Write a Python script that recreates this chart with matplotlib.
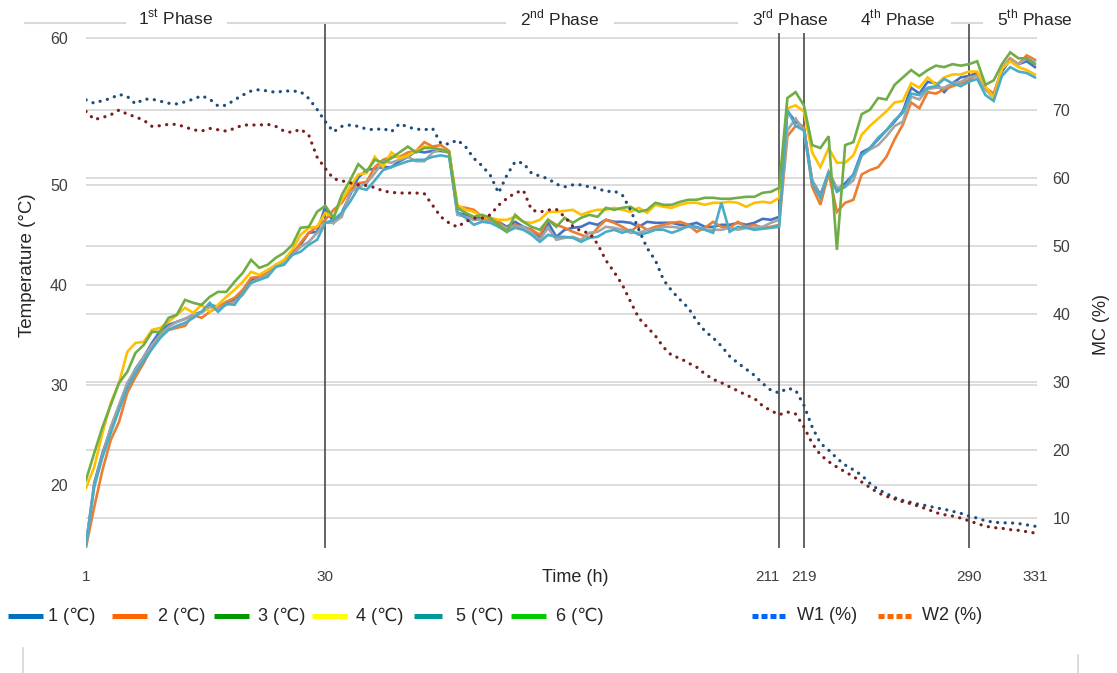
import numpy as np
import matplotlib
matplotlib.use('Agg')
import matplotlib.pyplot as plt
from matplotlib.lines import Line2D
from matplotlib.transforms import blended_transform_factory

plt.rcParams['font.family'] = ['Liberation Sans', 'DejaVu Sans']
plt.rcParams['mathtext.fontset'] = 'custom'
plt.rcParams['mathtext.rm'] = 'Liberation Sans'

# pile temperatures (deg C), one reading per sample
t1 = [14.0, 20.2, 23.2, 25.6, 27.8, 30.0, 31.6, 32.8, 34.2, 35.4, 36.0, 36.3, 36.6, 37.0, 37.3, 38.0, 37.8, 38.2, 38.5, 39.4, 40.5, 40.8, 41.0, 42.0, 42.3, 43.2,
      44.0, 45.2, 45.3, 47.8, 46.2, 47.2, 49.0, 50.5, 51.0, 51.1, 51.2, 51.2, 51.6, 51.9, 52.3, 52.2, 52.3, 52.3, 52.2, 47.2, 47.0, 46.5, 46.8, 46.3, 46.3, 45.8, 46.3, 45.8, 45.5,
      44.8, 46.2, 44.8, 45.5, 45.7, 45.8, 46.2, 46.0, 46.5, 46.3, 46.3, 46.2, 45.8, 46.3, 46.2, 46.2, 46.2, 46.0, 46.0, 46.2, 45.8, 45.8, 46.0, 46.0, 46.2, 46.0, 46.2, 46.6, 46.5, 46.8,
      55.0, 54.3, 53.9, 50.3, 49.0, 50.8, 49.5, 50.1, 50.7, 52.2, 52.5, 53.1, 53.7, 54.3, 55.0, 56.6, 56.2, 57.0, 56.9, 56.3, 56.9, 57.3, 57.4, 57.6, 56.5, 56.0, 57.7, 58.5, 58.2, 58.4, 58.0]
t2 = [13.8, 17.8, 21.5, 24.5, 26.3, 29.2, 30.8, 32.2, 33.8, 35.0, 35.5, 35.7, 35.9, 37.0, 36.7, 37.3, 37.8, 38.3, 38.7, 39.5, 40.7, 40.8, 41.2, 41.8, 42.2, 43.0,
      44.2, 45.2, 45.8, 46.5, 47.5, 48.2, 49.5, 50.1, 50.2, 51.2, 51.7, 51.9, 51.9, 52.2, 52.3, 52.9, 52.6, 52.7, 52.3, 47.8, 47.7, 47.5, 46.8, 46.5, 46.3, 45.5, 46.0, 45.7, 45.5,
      45.0, 46.5, 46.0, 45.7, 45.3, 45.0, 44.7, 45.7, 46.5, 46.2, 45.8, 45.3, 46.0, 45.5, 45.8, 46.0, 46.2, 46.3, 46.0, 45.3, 45.7, 46.3, 45.8, 45.7, 46.3, 45.8, 46.0, 45.7, 45.8, 46.0,
      53.3, 54.0, 53.9, 49.8, 48.0, 50.8, 47.3, 48.2, 48.5, 50.7, 51.0, 51.2, 51.9, 53.1, 54.1, 55.6, 55.2, 56.3, 56.2, 56.5, 56.7, 56.9, 57.1, 57.5, 56.6, 56.2, 57.9, 58.6, 58.2, 58.8, 58.5]
t3 = [14.0, 20.0, 23.0, 25.8, 28.0, 30.2, 31.5, 32.8, 34.0, 35.0, 35.8, 36.3, 36.6, 37.0, 37.2, 37.8, 37.6, 38.0, 38.3, 39.0, 40.2, 40.6, 41.0, 41.8, 42.2, 43.0,
      43.8, 44.3, 45.2, 46.2, 46.2, 46.8, 49.2, 49.8, 50.1, 50.8, 51.6, 51.5, 51.7, 51.9, 51.6, 51.6, 52.2, 52.4, 52.2, 47.0, 46.8, 46.5, 46.5, 46.3, 46.0, 45.7, 45.8, 45.8, 45.2,
      44.5, 45.7, 44.5, 44.7, 44.8, 44.5, 45.2, 45.3, 45.8, 45.7, 45.5, 45.2, 45.2, 45.5, 45.5, 45.8, 45.8, 45.7, 45.8, 45.7, 45.5, 45.5, 45.5, 45.7, 45.5, 45.7, 45.7, 45.8, 46.2, 46.5,
      53.7, 54.5, 53.7, 50.3, 48.8, 50.9, 49.7, 49.8, 50.3, 52.0, 52.4, 52.7, 53.3, 54.0, 54.3, 56.0, 55.8, 56.5, 56.6, 56.6, 56.9, 57.0, 57.3, 57.4, 56.5, 55.9, 57.9, 58.5, 58.2, 58.6, 58.4]
t4 = [19.7, 21.8, 25.2, 28.2, 30.2, 33.3, 34.2, 34.3, 35.5, 35.7, 36.3, 37.0, 37.7, 37.2, 38.0, 37.3, 38.0, 38.8, 39.5, 40.3, 41.3, 41.0, 41.5, 42.0, 42.5, 43.5,
      45.0, 45.7, 45.8, 47.2, 46.8, 48.5, 49.8, 50.7, 50.8, 51.9, 51.2, 52.2, 51.8, 52.0, 52.3, 52.6, 52.5, 52.4, 52.2, 48.0, 47.5, 47.3, 46.8, 46.7, 46.5, 46.5, 46.8, 46.3, 46.2,
      46.5, 47.3, 47.3, 47.4, 47.5, 47.0, 47.3, 47.5, 47.5, 47.7, 47.5, 47.3, 47.7, 47.2, 48.0, 47.8, 47.7, 48.0, 48.2, 48.2, 48.0, 48.2, 48.2, 48.3, 48.2, 47.8, 48.2, 48.3, 48.2, 48.7,
      55.2, 55.4, 55.0, 52.2, 51.2, 52.5, 51.5, 51.5, 52.0, 53.4, 54.0, 54.5, 55.0, 55.6, 55.7, 56.9, 56.6, 57.3, 56.8, 57.3, 57.5, 57.5, 57.7, 57.7, 56.7, 55.9, 57.9, 58.4, 58.0, 57.8, 57.5]
t5 = [14.0, 19.8, 22.8, 25.2, 27.5, 29.7, 31.2, 32.4, 33.6, 34.7, 35.5, 35.9, 36.2, 36.7, 37.3, 38.2, 37.3, 38.1, 38.0, 39.2, 40.2, 40.5, 40.8, 41.8, 42.0, 43.0,
      43.3, 44.0, 44.5, 46.2, 46.5, 47.2, 48.3, 49.7, 49.5, 50.3, 51.0, 51.2, 51.4, 51.6, 51.7, 51.7, 51.9, 52.0, 51.9, 47.3, 46.7, 46.0, 46.3, 46.2, 45.8, 45.3, 45.7, 45.5, 45.0,
      44.3, 45.0, 44.8, 44.8, 44.7, 44.3, 44.7, 44.8, 45.3, 45.5, 45.2, 45.5, 45.0, 45.2, 45.5, 45.5, 45.2, 45.5, 45.9, 45.8, 45.5, 45.2, 48.2, 45.3, 45.8, 45.7, 45.5, 45.6, 45.7, 45.8,
      55.1, 54.0, 53.7, 50.1, 48.7, 50.9, 49.3, 49.8, 50.7, 52.0, 52.5, 53.2, 53.7, 54.4, 54.9, 56.2, 56.1, 56.6, 56.7, 57.2, 56.9, 56.7, 57.0, 57.2, 56.1, 55.7, 57.4, 58.0, 57.7, 57.6, 57.3]
t6 = [20.5, 23.2, 25.8, 28.0, 30.2, 31.3, 33.2, 34.0, 35.3, 35.3, 36.7, 37.0, 38.5, 38.2, 38.0, 38.8, 39.3, 39.3, 40.3, 41.2, 42.5, 41.7, 42.0, 42.7, 43.2, 44.0,
      45.7, 45.8, 47.3, 47.9, 46.7, 49.0, 50.3, 51.4, 50.9, 51.7, 51.5, 51.8, 52.2, 52.6, 52.2, 52.5, 52.5, 52.4, 52.2, 47.7, 47.2, 46.8, 47.0, 46.7, 46.0, 45.3, 47.0, 46.3, 45.8,
      45.5, 46.5, 45.8, 46.7, 46.2, 46.7, 47.0, 46.8, 47.7, 47.5, 47.7, 47.8, 47.3, 47.5, 48.2, 48.0, 48.0, 48.3, 48.5, 48.5, 48.7, 48.7, 48.6, 48.6, 48.7, 48.8, 48.8, 49.2, 49.3, 49.7,
      55.9, 56.3, 55.4, 52.7, 52.5, 53.3, 43.5, 52.7, 52.9, 54.8, 55.1, 55.9, 55.8, 56.8, 57.3, 57.8, 57.4, 57.8, 58.1, 58.0, 58.2, 58.1, 58.2, 58.4, 56.8, 57.1, 58.2, 59.0, 58.6, 58.6, 58.2]

# moisture content (%)
w1 = [71.5, 71.0, 71.4, 71.7, 72.3, 72.0, 70.9, 71.6, 71.6, 71.3, 71.0, 70.9, 71.2, 71.6, 72.1, 71.6, 70.6, 70.7, 71.5, 72.2, 72.8, 73.0, 72.8, 72.6, 72.8, 72.8, 72.7, 71.7, 70.1, 68.3, 66.8, 67.6, 67.8, 67.6, 67.2, 67.1, 67.3, 66.8,
      68.0, 67.5, 67.2, 67.1, 67.3, 65.1, 65.0, 65.6, 64.6, 62.9, 61.8, 60.4, 57.8, 60.4, 62.4, 62.2, 60.7, 60.3, 59.9, 59.1, 58.7, 59.0, 59.0, 58.7, 58.5, 58.0, 58.1, 57.5, 55.3, 52.4, 49.7,
      47.9, 45.0, 43.4, 42.1, 40.9, 39.0, 37.5, 36.5, 35.3, 33.8, 32.8, 31.9, 31.0,
      29.8, 28.8, 28.4, 29.1, 28.8, 26.6, 23.4, 21.0, 20.0, 18.8, 17.8, 17.1, 16.3, 15.1, 14.2, 13.6, 13.0, 12.6, 12.3, 12.0, 11.8, 11.5, 11.3, 11.0, 10.7, 10.3, 10.0, 9.6, 9.4, 9.3, 9.3, 9.2, 9.0, 8.8]
w2 = [69.8, 68.6, 68.9, 69.3, 70.0, 69.4, 69.0, 68.5, 67.6, 67.7, 67.9, 67.9, 67.5, 67.1, 66.9, 67.3, 67.1, 66.9, 67.3, 67.8, 67.8, 67.8, 67.9, 67.6, 66.9, 66.7, 67.2, 66.3, 63.1, 61.4, 59.9, 59.6, 59.3, 59.0, 58.9, 58.6, 58.1, 57.9,
      57.8, 57.8, 57.8, 57.7, 56.0, 54.3, 53.4, 52.8, 53.6, 54.1, 54.1, 54.6, 56.0, 57.0, 57.8, 58.2, 55.3, 55.0, 55.3, 55.4, 54.3, 52.9, 52.2, 51.9,
      50.3, 47.9, 46.2, 44.3, 41.8, 39.4, 38.1, 36.8, 35.1, 33.9, 33.5, 32.8, 32.2, 31.2, 30.4, 29.9, 29.3, 28.7, 28.1, 27.6,
      26.5, 25.8, 25.2, 25.6, 25.3, 23.4, 21.0, 19.3, 18.3, 17.5, 16.8, 16.1, 15.3, 14.5, 13.7, 13.2, 12.8, 12.4, 12.1, 11.7, 11.3, 10.8, 10.5, 10.3, 10.0, 9.6, 9.2, 8.8, 8.6, 8.5, 8.3, 8.2, 8.0, 7.8]

# sample index where each labelled hour falls
hour_idx = [0, 29, 84, 87, 107, 115]
hour_labels = ['1', '30', '211', '219', '290', '331']
phase_idx = [29, 84, 87, 107]
phase_names = [r'1$^{\mathrm{st}}$ Phase', r'2$^{\mathrm{nd}}$ Phase', r'3$^{\mathrm{rd}}$ Phase',
               r'4$^{\mathrm{th}}$ Phase', r'5$^{\mathrm{th}}$ Phase']
temp_ticks = [20, 30, 40, 50, 60]
mc_ticks = [10, 20, 30, 40, 50, 60, 70]

line_colors = ['#4472C4', '#ED7D31', '#A5A5A5', '#FFC000', '#4BACC6', '#70AD47']
legend_names = ['1 (℃)', '2 (℃)', '3 (℃)', '4 (℃)', '5 (℃)', '6 (℃)', 'W1 (%)', 'W2 (%)']
legend_colors = ['#0070C0', '#FF6600', '#009900', '#FFFF00', '#009999', '#00CC00', '#0066FF', '#FF6600']

W, H = 1117, 673
fig = plt.figure(figsize=(W / 100, H / 100), dpi=100)
ax = fig.add_axes([86 / W, 1 - 548 / H, (1037 - 86) / W, (548 - 23) / H])


def stretch(t):
    t = np.asarray(t, dtype=float)
    return np.where(t > 50, 50 + (t - 50) * 1.47, t)


def unstretch(u):
    u = np.asarray(u, dtype=float)
    return np.where(u > 50, 50 + (u - 50) / 1.47, u)


ax.set_yscale('function', functions=(stretch, unstretch))
ax.set_ylim(13.7, 61.0)
ax.set_xlim(0, 115.25)

ax2 = ax.twinx()
ax2.set_ylim(5.6, 82.8)

grid_kw = dict(color='#D9D9D9', lw=1.3, zorder=0)
for v in temp_ticks:
    ax.axhline(v, **grid_kw)
tr = blended_transform_factory(ax.transAxes, ax2.transData)
for v in mc_ticks:
    ax.plot([0, 1], [v, v], transform=tr, **grid_kw)

for p in phase_idx:
    ax.axvline(p, color='#3A3A3A', lw=1.1, zorder=1.5)

x = np.arange(len(t1))
for t, c in zip([t1, t2, t3, t4, t5, t6], line_colors):
    ax.plot(x, t, color=c, lw=1.9, zorder=2, solid_joinstyle='miter')

dot = (0, (0.05, 2.3))
ax2.plot(x, w1, color='#1F4E79', lw=2.3, ls=dot, dash_capstyle='round')
ax2.plot(x, w2, color='#7B1E1E', lw=2.3, ls=dot, dash_capstyle='round')

for a in (ax, ax2):
    for s in a.spines.values():
        s.set_visible(False)

ax.set_xticks(hour_idx)
ax.set_xticklabels(hour_labels)
ax.tick_params(axis='x', length=0, pad=16, labelsize=11, labelcolor='#404040')
ax.get_xticklabels()[2].set_horizontalalignment('right')
ax.set_yticks(temp_ticks)
ax.set_yticklabels([str(v) for v in temp_ticks])
ax.yaxis.set_minor_locator(matplotlib.ticker.NullLocator())
ax.tick_params(axis='y', length=0, pad=13, labelsize=11.5, labelcolor='#404040')
ax2.set_yticks(mc_ticks)
ax2.tick_params(axis='y', length=0, pad=11, labelsize=11.5, labelcolor='#404040')

fig.text(27 / W, 1 - 265 / H, 'Temperature (°C)', rotation=90, ha='center', va='center', fontsize=13.5, color='#262626')
fig.text(1102 / W, 1 - 324 / H, 'MC (%)', rotation=90, ha='center', va='center', fontsize=13, color='#262626')
fig.text(575 / W, 1 - 577 / H, 'Time (h)', ha='center', va='center', fontsize=13, color='#262626')

# phase header with a rule broken around each title
header_y = 1 - 23 / H
for x0, x1 in [(25, 125), (228, 505), (615, 737), (952, 982)]:
    fig.add_artist(Line2D([x0 / W, x1 / W], [header_y, header_y], color='#D9D9D9', lw=1.5))
for name, cx in zip(phase_names, [176, 560, 790, 898, 1035]):
    fig.text(cx / W, 1 - 18 / H, name, ha='center', va='center', fontsize=12.5, color='#262626',
             bbox=dict(boxstyle='square,pad=0.25', fc='white', ec='none'), zorder=5)

# legend row
leg_y = 1 - 616 / H
handles = [(8, 43, 48), (112, 147, 158), (214, 249, 258), (312, 347, 356),
           (414, 442, 456), (511, 546, 556), (752, 786, 797), (878, 914, 922)]
for k, ((h0, h1, tx), name, c) in enumerate(zip(handles, legend_names, legend_colors)):
    ls = (0, (1.2, 0.6)) if k >= 6 else '-'
    fig.add_artist(Line2D([h0 / W, h1 / W], [leg_y, leg_y], color=c, lw=3.6, ls=ls, solid_capstyle='butt', dash_capstyle='butt'))
    fig.text(tx / W, leg_y, name, ha='left', va='center', fontsize=13, color='#262626')

for xx, y0 in [(23, 648), (1078, 655)]:
    fig.add_artist(Line2D([xx / W, xx / W], [0, 1 - y0 / H], color='#D6D6D6', lw=1.2))

fig.savefig('out.png', dpi=100)
